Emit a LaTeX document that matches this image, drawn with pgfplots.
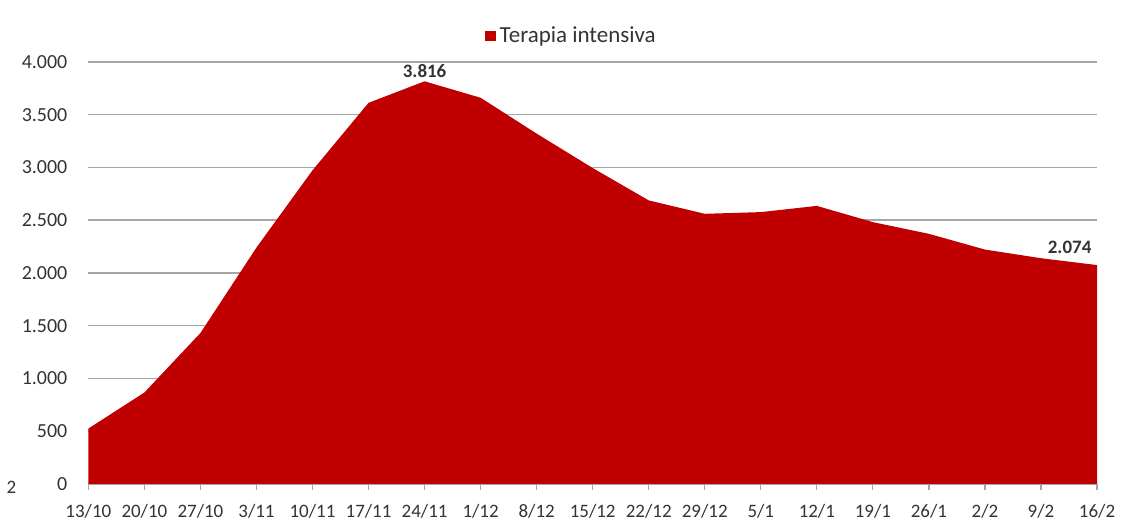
\documentclass[border=0pt]{standalone}
\usepackage{fontspec}
\setmainfont{Carlito}
\usepackage{pgfplots}
\pgfplotsset{compat=1.18}
\definecolor{tired}{HTML}{C00000}
\definecolor{gridgray}{HTML}{A6A6A6}
\definecolor{txt}{HTML}{333333}

\begin{document}
\begin{tikzpicture}[font=\fontsize{9.5}{11}\selectfont]
\begin{axis}[
  scale only axis, width=505pt, height=211.25pt,
  xmin=0, xmax=18, ymin=0, ymax=4000,
  axis x line*=bottom, axis y line*=left,
  y axis line style={draw=none},
  x axis line style={draw=gridgray, line width=0.75pt, -},
  ytick={0,500,...,4000},
  ytick style={draw=none},
  xtick={0,...,18},
  xticklabels={13/10,20/10,27/10,3/11,10/11,17/11,24/11,1/12,8/12,15/12,22/12,29/12,5/1,12/1,19/1,26/1,2/2,9/2,16/2},
  xtick style={draw=gridgray, line width=0.6pt},
  tick align=outside, major tick length=3pt,
  ymajorgrids, grid style={draw=gridgray, line width=0.75pt},
  tick label style={text=txt},
  yticklabel style={xshift=-4pt, font=\fontsize{10}{12}\selectfont},
  xticklabel style={yshift=-3.5pt},
  /pgf/number format/.cd, 1000 sep={.}, assume math mode=true,
  /pgfplots/.cd,
  legend style={at={(0.48,1.0615)}, anchor=center, draw=none, fill=none,
    text=txt, font=\fontsize{11.5}{13}\selectfont},
  legend image code/.code={\fill[tired] (0pt,-2.6pt) rectangle (5.2pt,2.6pt);},
]
\addplot[fill=tired, draw=none] coordinates {
(0,524) (1,866) (2,1430) (3,2240) (4,2972) (5,3612) (6,3816) (7,3660)
(8,3320) (9,2994) (10,2687) (11,2560) (12,2576) (13,2635) (14,2481)
(15,2370) (16,2221) (17,2139) (18,2074)} \closedcycle;
\addlegendentry{Terapia intensiva}
\node[anchor=south, text=txt, font=\fontsize{9.5}{11}\selectfont\bfseries, inner sep=1.5pt] at (axis cs:6,3816) {3.816};
\node[anchor=south east, text=txt, font=\fontsize{9.5}{11}\selectfont\bfseries, inner sep=1.5pt] at (axis cs:17.96,2150) {2.074};
\end{axis}
\node[text=txt, anchor=center] at ([xshift=-38.5pt,yshift=-1.75pt]current axis.south west) {2};
\path ([xshift=-43.5pt,yshift=-19.75pt]current axis.south west) rectangle ([xshift=13.5pt,yshift=31pt]current axis.north east);
\end{tikzpicture}
\end{document}
